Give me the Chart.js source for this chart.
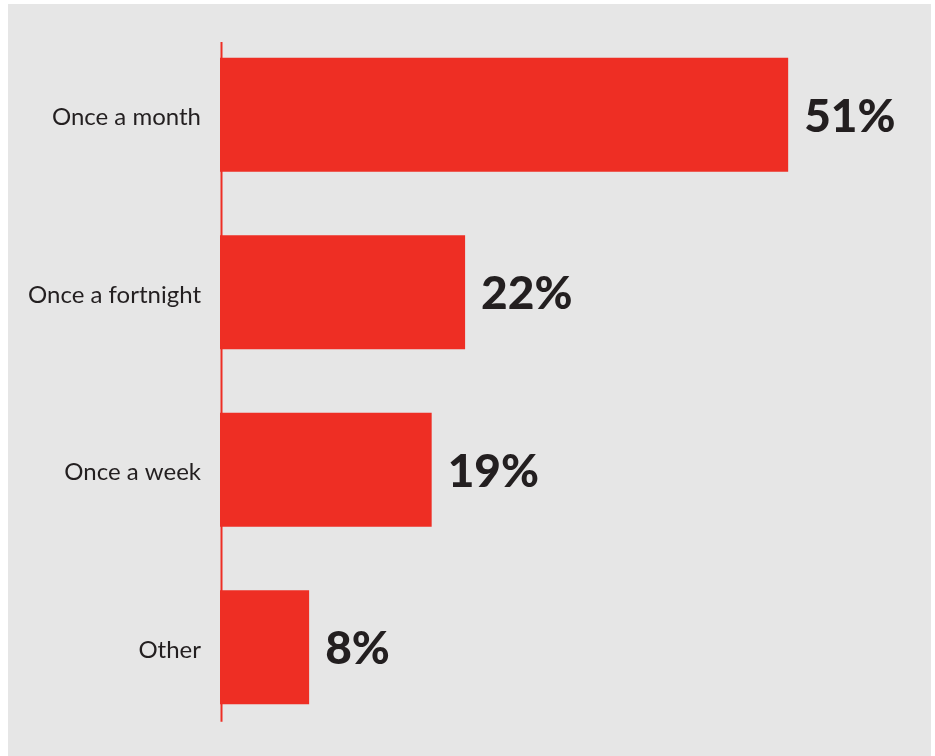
<!DOCTYPE html>
<html>
<head>
<meta charset="utf-8">
<script src="https://cdn.jsdelivr.net/npm/chart.js@4/dist/chart.umd.min.js"></script>
<style>
	html, body { margin: 0; padding: 0; background: #ffffff; }
	#panel { position: absolute; left: 8px; top: 4px; width: 923px; height: 752px; background: #e6e6e6; }
	#wrap { position: absolute; left: 0; top: 0; width: 935px; height: 756px; }
</style>
</head>
<body>
<div id="panel"></div>
<div id="wrap"><canvas id="chart"></canvas></div>
<script>
var categories = ["Once a month", "Once a fortnight", "Once a week", "Other"];
var shares = [51, 22, 19, 8];

var RED = '#ee2e24';
var INK = '#231f20';

//vertical baseline at zero, a bit shorter than the category band
var baseline = {
	id: 'baseline',
	beforeDatasetsDraw: function(chart) {
		var ctx = chart.ctx;
		var x = chart.scales.x.getPixelForValue(0) + 1.5;
		var y = chart.scales.y;
		var step = y.getPixelForValue(1) - y.getPixelForValue(0);
		var top = y.getPixelForValue(0) - step * 0.41;
		var bottom = y.getPixelForValue(categories.length - 1) + step * 0.42;
		ctx.save();
		ctx.strokeStyle = RED;
		ctx.lineWidth = 2;
		ctx.beginPath();
		ctx.moveTo(x, top);
		ctx.lineTo(x, bottom);
		ctx.stroke();
		ctx.restore();
	}
};

//percentage label after the end of each bar
var valueLabels = {
	id: 'valueLabels',
	afterDatasetsDraw: function(chart) {
		var ctx = chart.ctx;
		var meta = chart.getDatasetMeta(0);
		ctx.save();
		ctx.fillStyle = INK;
		ctx.font = '900 46px Lato';
		ctx.textAlign = 'left';
		ctx.textBaseline = 'middle';
		meta.data.forEach(function(bar, i) {
			ctx.fillText(shares[i] + '%', bar.x + 16, bar.y + 2);
		});
		ctx.restore();
	}
};

function mainFunc() {
	var ctx = document.getElementById('chart');
	new Chart(ctx, {
		type: 'bar',
		data: {
			labels: categories,
			datasets: [{
				data: shares,
				backgroundColor: RED,
				borderWidth: 0,
				barPercentage: 0.643,
				categoryPercentage: 1
			}]
		},
		options: {
			indexAxis: 'y',
			responsive: true,
			maintainAspectRatio: false,
			animation: false,
			layout: { padding: { top: 26, bottom: 20, left: 0, right: 2 } },
			plugins: {
				legend: { display: false },
				tooltip: { enabled: false }
			},
			scales: {
				x: {
					display: false,
					min: 0,
					max: 64
				},
				y: {
					//fixed label column, no extra room for label half-heights
					afterFit: function(scale) {
						scale.width = 220;
						scale.paddingTop = 0;
						scale.paddingBottom = 0;
					},
					border: { display: false },
					grid: { display: false },
					ticks: {
						color: INK,
						padding: 11,
						labelOffset: 3,
						font: { family: 'Lato', size: 24, weight: '400' }
					}
				}
			}
		},
		plugins: [baseline, valueLabels]
	});
}

window.onload = mainFunc;
</script>
</body>
</html>
